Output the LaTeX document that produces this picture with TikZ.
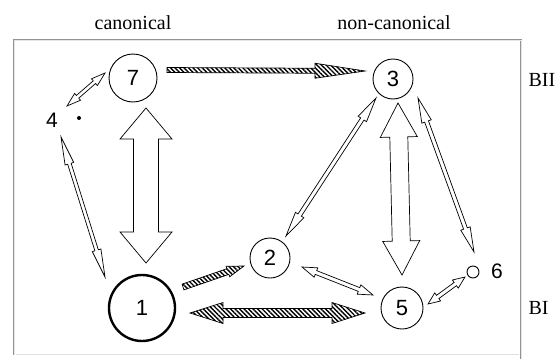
\documentclass[tikz,border=0pt]{standalone}
\usepackage{fontspec}
\setmainfont{Liberation Serif}
\newfontfamily\digitfont{Liberation Sans}
\usetikzlibrary{calc,patterns.meta}
% double-headed block arrow: #1 style, #2 tip A, #3 tip B, #4 shaft half width, #5 head half width, #6 head length
\newcommand\blockdbl[6]{%
  \path[#1] (#2) -- ($(#2)!#6!(#3)!#5!90:(#3)$) -- ($(#2)!#6!(#3)!#4!90:(#3)$)
    -- ($(#3)!#6!(#2)!#4!-90:(#2)$) -- ($(#3)!#6!(#2)!#5!-90:(#2)$) -- (#3)
    -- ($(#3)!#6!(#2)!#5!90:(#2)$) -- ($(#3)!#6!(#2)!#4!90:(#2)$)
    -- ($(#2)!#6!(#3)!#4!-90:(#3)$) -- ($(#2)!#6!(#3)!#5!-90:(#3)$) -- cycle;}
% single-headed block arrow: #1 style, #2 tail, #3 tip, #4 shaft half width, #5 head half width, #6 head length
\newcommand\blocksgl[6]{%
  \path[#1] ($(#2)!#4!90:(#3)$) -- ($(#3)!#6!(#2)!#4!-90:(#2)$) -- ($(#3)!#6!(#2)!#5!-90:(#2)$) -- (#3)
    -- ($(#3)!#6!(#2)!#5!90:(#2)$) -- ($(#3)!#6!(#2)!#4!90:(#2)$) -- ($(#2)!#4!-90:(#3)$) -- cycle;}
\begin{document}
\begin{tikzpicture}[x=1pt,y=-1pt,
  state/.style={circle,draw,line width=0.9pt,inner sep=0pt,font=\digitfont\fontsize{22}{22}\selectfont},
  hollowarrow/.style={draw,line width=0.7pt,fill=white,line join=miter},
  hatcharrow/.style={draw,line width=0.7pt,line join=miter,pattern={Lines[angle=-45,distance=3.2pt,line width=1.4pt]}},
  lbl/.style={font=\fontsize{20}{22}\selectfont},
  slbl/.style={font=\digitfont\fontsize{21}{21}\selectfont},
  framestyle/.style={draw=gray!85,line width=0.7pt,double=gray!20,double distance=0.9pt}]
\useasboundingbox (0,0) rectangle (556,359);
% frame
\draw[framestyle] (14,355) -- (14,40) -- (521,40) -- (521,359);
\draw[gray!25,line width=0.6pt] (16,354) -- (519,354);
% labels
\node[lbl] (tcan) at (133,23) {canonical};
\node[lbl] (tnon) at (394,23) {non-canonical};
\node[lbl,anchor=west] (tbii) at (525,80) {BII};
\node[lbl,anchor=west] (tbi) at (525,308) {BI};
% states
\node[state,minimum size=48pt] (n7) at (133,78) {7};
\node[state,minimum size=40pt] (n3) at (393,79) {3};
\node[state,minimum size=66pt,line width=2.4pt] (n1) at (142,308) {1};
\node[state,minimum size=40pt] (n2) at (270,258) {2};
\node[state,minimum size=42pt] (n5) at (402,308) {5};
\node[circle,draw,line width=0.9pt,inner sep=0pt,minimum size=12pt] (n6) at (473,272) {};
\node[slbl] (l6) at (497,271) {6};
\node[slbl] (l4) at (52,120) {4};
\node[circle,fill,inner sep=0pt,minimum size=4pt] (n4) at (79,118) {};
% arrow end points
\coordinate (a7s) at (105,73);  \coordinate (a4s) at (67,106);
\coordinate (b4s) at (61,137);  \coordinate (b1s) at (105,277);
\coordinate (c7s) at (146,108); \coordinate (c1s) at (146,263);
\coordinate (d7s) at (167,70);  \coordinate (d3s) at (365,71);
\coordinate (e1s) at (183,287); \coordinate (e2s) at (244,266);
\coordinate (f1s) at (190,313); \coordinate (f5s) at (365,313);
\coordinate (g3s) at (376,98);  \coordinate (g2s) at (286,236);
\coordinate (h3s) at (398,103); \coordinate (h5s) at (402,275);
\coordinate (i3s) at (418,98);  \coordinate (i6s) at (474,252);
\coordinate (j2s) at (302,267); \coordinate (j5s) at (373,295);
\coordinate (k5s) at (428,304); \coordinate (k6s) at (465,277);
% arrows
\blockdbl{hollowarrow}{a7s}{a4s}{1.8pt}{4.5pt}{14pt}
\blockdbl{hollowarrow}{b4s}{b1s}{1.8pt}{4.5pt}{28pt}
\blockdbl{hollowarrow}{c7s}{c1s}{12.5pt}{26pt}{31pt}
\blocksgl{hatcharrow}{d7s}{d3s}{2.5pt}{7.5pt}{50pt}
\blocksgl{hatcharrow}{e1s}{e2s}{3pt}{5.5pt}{17pt}
\blockdbl{hatcharrow}{f1s}{f5s}{4.5pt}{10.5pt}{33pt}
\blockdbl{hollowarrow}{g3s}{g2s}{2pt}{5pt}{25pt}
\blockdbl{hollowarrow}{h3s}{h5s}{9pt}{18.5pt}{34pt}
\blockdbl{hollowarrow}{i3s}{i6s}{2pt}{5pt}{25pt}
\blockdbl{hollowarrow}{j2s}{j5s}{2pt}{5pt}{15pt}
\blockdbl{hollowarrow}{k5s}{k6s}{2pt}{5pt}{12pt}
\end{tikzpicture}
\end{document}
